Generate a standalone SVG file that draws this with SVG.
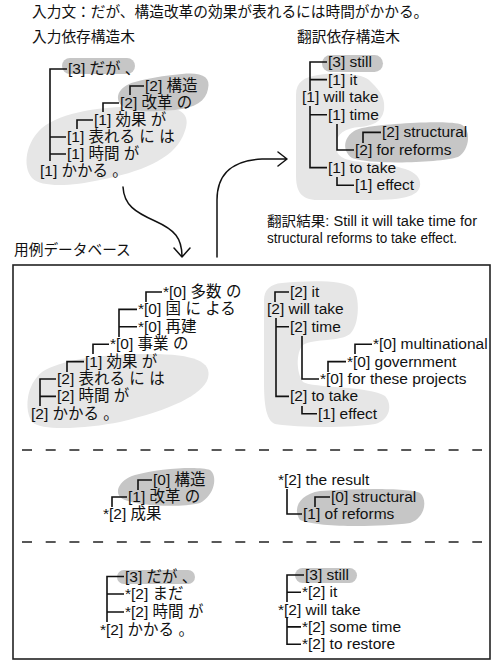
<svg xmlns="http://www.w3.org/2000/svg" width="493" height="663" viewBox="0 0 493 663">
<style>
.t{font-family:"Noto Sans CJK JP",sans-serif;font-size:14.7px;fill:#111}
.n{font-family:"Liberation Sans","Noto Sans CJK JP",sans-serif;font-size:15.5px;fill:#111}
.e{font-family:"Liberation Sans","Noto Sans CJK JP",sans-serif;font-size:14px;fill:#111}
.c{fill:none;stroke:#111;stroke-width:1.6}
.a{fill:none;stroke:#111;stroke-width:1.5;stroke-linecap:round;stroke-linejoin:round}
.hd{fill:#c6c6c6}
.hl{fill:#e6e6e6}
.dash{stroke:#222;stroke-width:1.5;stroke-dasharray:10 13.7}
.box{fill:none;stroke:#222;stroke-width:1.6}
</style>
<rect width="493" height="663" fill="#fff"/>

<!-- titles -->
<g id="titles">
<text class="t" x="32" y="17">入力文：だが、構造改革の効果が表れるには時間がかかる。</text>
<text class="t" x="32" y="41.5">入力依存構造木</text>
<text class="t" x="297" y="41.5">翻訳依存構造木</text>
<text class="t" x="14" y="255">用例データベース</text>
<text class="e" x="267" y="226" textLength="210" lengthAdjust="spacingAndGlyphs">翻訳結果: Still it will take time for</text>
<text class="e" x="267" y="243" textLength="190" lengthAdjust="spacingAndGlyphs">structural reforms to take effect.</text>
</g>

<!-- highlight blobs -->
<g id="highlights">
<path class="hl" d="M32,178 C22,166 26,142 42,128 C62,112 100,106 150,106 C186,106 192,116 183,136 C172,160 140,172 100,180 C72,186 42,188 32,178 Z"/>
<path class="hd" d="M125,108 C112,100 118,86 135,82 C150,78 162,76 182,74 C202,72 211,77 208,89 C206,101 195,108 175,110 C150,112 135,112 125,108 Z"/>
<rect class="hd" x="62" y="58" width="73" height="16" rx="8"/>
<path class="hl" d="M318,75 C340,72 362,74 369,80 C377,88 386,96 384,110 C382,122 372,126 360,127 C345,128 336,134 336,145 C336,156 342,160 362,162 C392,165 418,168 420,182 C422,196 405,200 370,200 L318,200 C300,200 296,190 296,175 L296,95 C296,82 304,77 318,75 Z"/>
<path class="hd" d="M352,158 C340,150 344,132 362,128 C385,124 440,120 460,124 C472,128 470,150 458,157 C440,163 370,165 352,158 Z"/>
<rect class="hd" x="322" y="55" width="61" height="17" rx="8.5"/>
<path class="hl" d="M32,422 C24,410 26,385 42,372 C60,360 100,354 150,354 C195,354 212,362 208,378 C203,395 170,410 120,422 C90,428 42,432 32,422 Z"/>
<path class="hl" d="M282,283 C310,280 345,280 353,288 C360,296 360,325 350,334 C340,342 315,338 303,345 C296,352 296,372 303,382 C312,388 370,386 385,396 C393,405 390,420 375,424 C350,428 300,428 275,424 C265,420 264,400 264,380 L264,300 C264,290 270,284 282,283 Z"/>
<path class="hd" d="M125,500 C112,495 118,480 135,475 C160,468 200,466 210,470 C218,476 215,495 200,503 C180,508 140,506 125,500 Z"/>
<path class="hd" d="M300,520 C292,508 300,494 320,491 C360,488 410,488 420,493 C428,500 425,518 410,523 C380,527 320,528 300,520 Z"/>
<rect class="hd" x="117" y="570" width="78" height="14" rx="7"/>
<rect class="hd" x="295" y="568" width="62" height="15" rx="7.5"/>
</g>

<!-- database frame -->
<g id="database">
<rect class="box" x="13" y="265" width="477" height="394"/>
<line class="dash" x1="22" y1="450" x2="482" y2="450"/>
<line class="dash" x1="22" y1="542" x2="482" y2="542"/>
</g>

<!-- connectors -->
<g id="connectors">
<path class="c" d="M67,69 H50 V161 M50,137 H66 M50,154 H66"/>
<path class="c" d="M144,86 H130 V95"/>
<path class="c" d="M119,103 H103 V112"/>
<path class="c" d="M93,120 H77 V129"/>
<path class="c" d="M327,62 H310 V91 M310,79.6 H327"/>
<path class="c" d="M310,106 V167.6 H327 M310,114.8 H327"/>
<path class="c" d="M337,124 V150 H354"/>
<path class="c" d="M381,132.4 H363 V143"/>
<path class="c" d="M337,177 V185.2 H354"/>
<path class="c" d="M162,292 H146 V302"/>
<path class="c" d="M137,309.4 H119 V337 M119,326.8 H137"/>
<path class="c" d="M109,344.2 H93 V354"/>
<path class="c" d="M84,361.6 H67 V372"/>
<path class="c" d="M56,379 H40 V406 M40,396.4 H56"/>
<path class="c" d="M289,292 H275 V302"/>
<path class="c" d="M276,318 V396.4 H289 M276,326.8 H289"/>
<path class="c" d="M302,336 V379 H319"/>
<path class="c" d="M372,344.2 H355 V354"/>
<path class="c" d="M346,361.6 H328 V372"/>
<path class="c" d="M302,406 V413.8 H317"/>
<path class="c" d="M152,480 H138 V490"/>
<path class="c" d="M127,497 H112 V507"/>
<path class="c" d="M287,489 V514 H302"/>
<path class="c" d="M330,497 H315 V507"/>
<path class="c" d="M124,576.5 H107 V622 M107,594 H124 M107,612 H124"/>
<path class="c" d="M304,575 H287 V602 M287,592.3 H301"/>
<path class="c" d="M287,618 V644.2 H301 M287,626.9 H301"/>
<path class="a" d="M123,187 C124,205 135,212 155,221 C175,230 182,238 182,257 M174,248 L182,257 L190,248"/>
<path class="a" d="M217,257 L217,200 C217,172 235,160 262,159 L287,159 M278,152 L287,159 L278,166"/>
</g>

<!-- input tree -->
<g id="in-3"><text class="n" x="68" y="74">[3] だが 、</text></g>
<g id="in-kouzou"><text class="n" x="145" y="91">[2] 構造</text></g>
<g id="in-kaikaku"><text class="n" x="120" y="108">[2] 改革 の</text></g>
<g id="in-kouka"><text class="n" x="94" y="125">[1] 効果 が</text></g>
<g id="in-arawareru"><text class="n" x="67" y="142">[1] 表れる に は</text></g>
<g id="in-jikan"><text class="n" x="67" y="159">[1] 時間 が</text></g>
<g id="in-kakaru"><text class="n" x="40" y="176">[1] かかる 。</text></g>

<!-- translation tree -->
<g id="tr-still"><text class="n" x="328" y="67">[3] still</text></g>
<g id="tr-it"><text class="n" x="328" y="84.6">[1] it</text></g>
<g id="tr-willtake"><text class="n" x="302" y="102.2">[1] will take</text></g>
<g id="tr-time"><text class="n" x="328" y="119.8">[1] time</text></g>
<g id="tr-structural"><text class="n" x="382" y="137.4">[2] structural</text></g>
<g id="tr-forreforms"><text class="n" x="355" y="155">[2] for reforms</text></g>
<g id="tr-totake"><text class="n" x="328" y="172.6">[1] to take</text></g>
<g id="tr-effect"><text class="n" x="355" y="190.2">[1] effect</text></g>

<!-- example 1 japanese -->
<g id="e1j-tasuu"><text class="n" x="163" y="297">*[0] 多数 の</text></g>
<g id="e1j-kuni"><text class="n" x="138" y="314.4">*[0] 国 に よる</text></g>
<g id="e1j-saiken"><text class="n" x="138" y="331.8">*[0] 再建</text></g>
<g id="e1j-jigyou"><text class="n" x="110" y="349.2">*[0] 事業 の</text></g>
<g id="e1j-kouka"><text class="n" x="85" y="366.6">[1] 効果 が</text></g>
<g id="e1j-arawareru"><text class="n" x="57" y="384">[2] 表れる に は</text></g>
<g id="e1j-jikan"><text class="n" x="57" y="401.4">[2] 時間 が</text></g>
<g id="e1j-kakaru"><text class="n" x="31" y="418.8">[2] かかる 。</text></g>

<!-- example 1 english -->
<g id="e1e-it"><text class="n" x="290" y="297">[2] it</text></g>
<g id="e1e-willtake"><text class="n" x="267" y="314.4">[2] will take</text></g>
<g id="e1e-time"><text class="n" x="290" y="331.8">[2] time</text></g>
<g id="e1e-multinational"><text class="n" x="373" y="349.2">*[0] multinational</text></g>
<g id="e1e-government"><text class="n" x="347" y="366.6">*[0] government</text></g>
<g id="e1e-projects"><text class="n" x="320" y="384">*[0] for these projects</text></g>
<g id="e1e-totake"><text class="n" x="290" y="401.4">[2] to take</text></g>
<g id="e1e-effect"><text class="n" x="318" y="418.8">[1] effect</text></g>

<!-- example 2 -->
<g id="e2j-kouzou"><text class="n" x="153" y="485">[0] 構造</text></g>
<g id="e2j-kaikaku"><text class="n" x="128" y="502">[1] 改革 の</text></g>
<g id="e2j-seika"><text class="n" x="103" y="519">*[2] 成果</text></g>
<g id="e2e-result"><text class="n" x="278" y="485">*[2] the result</text></g>
<g id="e2e-structural"><text class="n" x="331" y="502">[0] structural</text></g>
<g id="e2e-reforms"><text class="n" x="303" y="519">[1] of reforms</text></g>

<!-- example 3 -->
<g id="e3j-daga"><text class="n" x="125" y="581.5">[3] だが 、</text></g>
<g id="e3j-mada"><text class="n" x="125" y="599">*[2] まだ</text></g>
<g id="e3j-jikan"><text class="n" x="125" y="617">*[2] 時間 が</text></g>
<g id="e3j-kakaru"><text class="n" x="100" y="635">*[2] かかる 。</text></g>
<g id="e3e-still"><text class="n" x="305" y="580">[3] still</text></g>
<g id="e3e-it"><text class="n" x="302" y="597.3">*[2] it</text></g>
<g id="e3e-willtake"><text class="n" x="278" y="614.6">*[2] will take</text></g>
<g id="e3e-sometime"><text class="n" x="302" y="631.9">*[2] some time</text></g>
<g id="e3e-restore"><text class="n" x="302" y="649.2">*[2] to restore</text></g>
</svg>
